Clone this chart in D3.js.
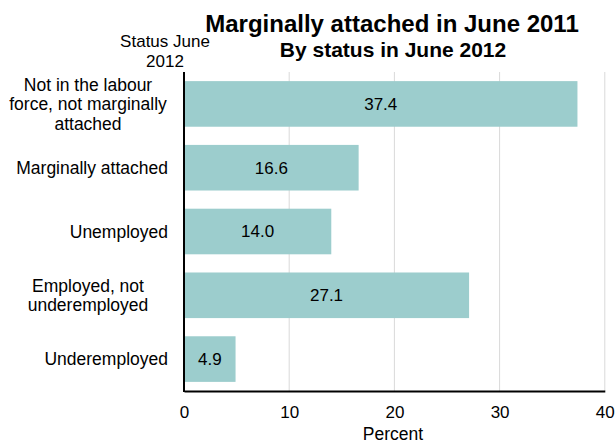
<!DOCTYPE html>
<html><head><meta charset="utf-8">
<script src="https://cdn.jsdelivr.net/npm/d3@7"></script>
<style>body{margin:0;background:#fff}svg{display:block;font-family:"Liberation Sans",Arial,sans-serif}</style>
</head><body>
<script>
const categories = [
  ["Not in the labour", "force, not marginally", "attached"],
  ["Marginally attached"],
  ["Unemployed"],
  ["Employed, not", "underemployed"],
  ["Underemployed"]
];
const values = [37.4, 16.6, 14.0, 27.1, 4.9];
const xTicks = [0, 10, 20, 30, 40];

const W = 616, H = 444;
const m = {left: 184, right: 12, top: 72, bottom: 53};
const svg = d3.select("body").append("svg").attr("width", W).attr("height", H);

const x = d3.scaleLinear().domain([0, 40]).range([m.left, 604.8]);
const y = d3.scaleBand().domain(d3.range(values.length)).range([m.top, H - m.bottom]).paddingInner(0.285).paddingOuter(0.143);

// gridlines
svg.append("g").selectAll("line").data(xTicks.slice(1)).join("line")
  .attr("x1", d => x(d)).attr("x2", d => x(d))
  .attr("y1", m.top).attr("y2", H - m.bottom)
  .attr("stroke", "#d9d9d9").attr("stroke-width", 1);

// bars
svg.append("g").selectAll("rect").data(values).join("rect")
  .attr("x", x(0)).attr("y", (d, i) => y(i))
  .attr("width", d => x(d) - x(0)).attr("height", y.bandwidth())
  .attr("fill", "#9ccdcd");

// value labels
svg.append("g").selectAll("text").data(values).join("text")
  .attr("x", d => (x(0) + x(d)) / 2).attr("y", (d, i) => y(i) + y.bandwidth() / 2)
  .attr("dy", "0.35em").attr("text-anchor", "middle")
  .attr("font-size", 17).attr("fill", "#000")
  .text(d => d.toFixed(1));

// axes
const xAxis = d3.axisBottom(x).tickValues(xTicks).tickSize(0).tickPadding(15);
const gx = svg.append("g").attr("transform", `translate(0,${H - m.bottom})`).call(xAxis);
gx.select(".domain").attr("stroke", "#000").attr("stroke-width", 2);
gx.selectAll("text").attr("font-size", 17).attr("font-family", "Liberation Sans, Arial, sans-serif").attr("fill", "#000");

svg.append("line").attr("x1", x(0)).attr("x2", x(0)).attr("y1", m.top).attr("y2", H - m.bottom + 1)
  .attr("stroke", "#000").attr("stroke-width", 2);

// category labels
const lh = 19.5;
svg.append("g").selectAll("text").data(categories).join("text")
  .attr("font-size", 17.5).attr("fill", "#000")
  .each(function(lines, i) {
    const cy = y(i) + y.bandwidth() / 2;
    const t = d3.select(this);
    lines.forEach((l, j) => {
      t.append("tspan").attr("x", lines.length === 1 ? 168 : 88)
        .attr("text-anchor", lines.length === 1 ? "end" : "middle")
        .attr("y", cy + (j - (lines.length - 1) / 2) * lh).attr("dy", "0.35em").text(l);
    });
  });

// axis title
svg.append("text").attr("x", 393).attr("y", 440).attr("text-anchor", "middle")
  .attr("font-size", 17.5).text("Percent");

// y-axis title
svg.append("text").attr("text-anchor", "middle").attr("font-size", 17)
  .selectAll("tspan").data(["Status June", "2012"]).join("tspan")
  .attr("x", 165).attr("y", (d, i) => 47 + i * 19.5).text(d => d);

// titles
svg.append("text").attr("x", 392).attr("y", 32).attr("text-anchor", "middle")
  .attr("font-size", 24).attr("font-weight", "bold").text("Marginally attached in June 2011");
svg.append("text").attr("x", 393).attr("y", 57).attr("text-anchor", "middle")
  .attr("font-size", 21).attr("font-weight", "bold").text("By status in June 2012");
</script>
</body></html>
